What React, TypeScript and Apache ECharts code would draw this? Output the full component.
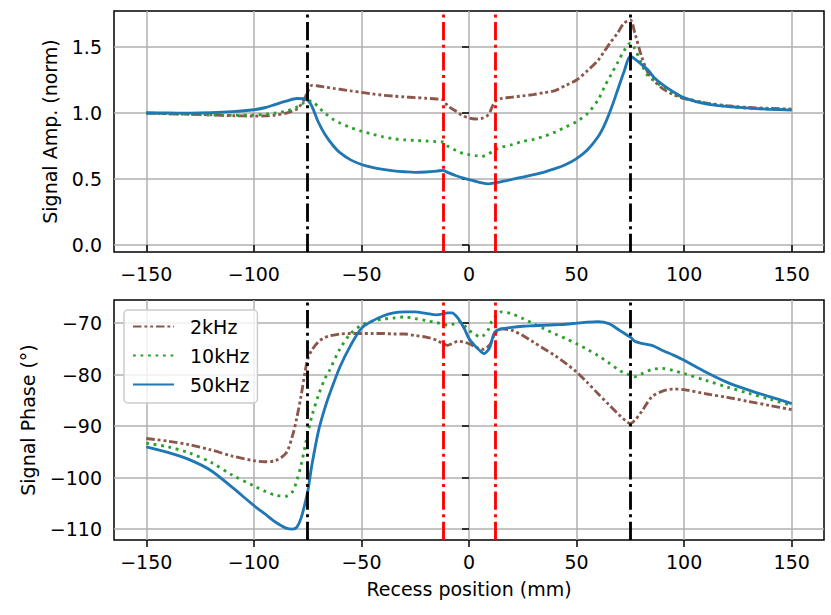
import React, { useEffect, useRef } from "react";
import * as echarts from "echarts";

const xTicks = [-150, -100, -50, 0, 50, 100, 150];
const ampTicks = [0, 0.5, 1.0, 1.5];
const phaseTicks = [-110, -100, -90, -80, -70];
const boundaryX = [-75, 75];
const recessX = [-12, 12];
const seriesNames = ["2kHz", "10kHz", "50kHz"];

const xAmp = [-150, -140, -130, -120, -110, -100, -95, -90, -85, -80, -77, -75, -73, -70, -67, -63, -60, -55, -50, -45, -40, -35, -30, -25, -20, -15, -12, -10, -6, -3, 0, 3, 6, 9, 12, 15, 20, 25, 30, 35, 40, 45, 50, 55, 60, 63, 66, 69, 72, 75, 77, 80, 83, 86, 90, 95, 100, 110, 120, 130, 140, 150];
const amp2k = [1.0, 0.995, 0.99, 0.986, 0.98, 0.977, 0.978, 0.985, 1.0, 1.03, 1.09, 1.16, 1.21, 1.205, 1.197, 1.187, 1.18, 1.168, 1.157, 1.145, 1.135, 1.128, 1.122, 1.117, 1.112, 1.106, 1.1, 1.056, 1.013, 0.98, 0.962, 0.955, 0.96, 0.987, 1.085, 1.11, 1.12, 1.13, 1.14, 1.155, 1.17, 1.21, 1.25, 1.32, 1.4, 1.47, 1.54, 1.604, 1.68, 1.705, 1.61, 1.44, 1.31, 1.245, 1.185, 1.14, 1.11, 1.077, 1.055, 1.042, 1.035, 1.03];
const amp10k = [1.0, 0.995, 0.99, 0.985, 0.982, 0.985, 0.99, 1.0, 1.015, 1.045, 1.075, 1.092, 1.09, 1.045, 1.0, 0.95, 0.925, 0.89, 0.862, 0.84, 0.82, 0.805, 0.797, 0.792, 0.788, 0.783, 0.78, 0.75, 0.715, 0.695, 0.685, 0.677, 0.672, 0.69, 0.72, 0.74, 0.76, 0.785, 0.8, 0.825, 0.855, 0.895, 0.935, 0.995, 1.1, 1.2, 1.29, 1.38, 1.47, 1.53, 1.49, 1.38, 1.285, 1.245, 1.2, 1.15, 1.115, 1.075, 1.05, 1.037, 1.03, 1.025];
const amp50k = [1.0, 1.0, 0.999, 1.002, 1.01, 1.025, 1.04, 1.065, 1.09, 1.11, 1.108, 1.098, 1.05, 0.93, 0.84, 0.75, 0.7, 0.645, 0.61, 0.588, 0.573, 0.562, 0.555, 0.55, 0.553, 0.56, 0.566, 0.55, 0.525, 0.508, 0.495, 0.483, 0.47, 0.463, 0.47, 0.48, 0.497, 0.515, 0.533, 0.553, 0.578, 0.61, 0.655, 0.72, 0.82, 0.91, 1.03, 1.17, 1.31, 1.43, 1.41, 1.37, 1.33, 1.27, 1.215, 1.16, 1.115, 1.07, 1.05, 1.037, 1.028, 1.022];

const xPhase = [-150, -140, -130, -120, -110, -100, -95, -90, -85, -82, -80, -78, -76, -75, -73, -70, -67, -65, -60, -55, -50, -45, -40, -35, -30, -25, -20, -15, -12, -10, -8, -5, -2, 0, 3, 5, 7, 9, 10, 12, 15, 20, 25, 30, 35, 40, 45, 50, 55, 60, 65, 70, 73, 75, 77, 80, 85, 90, 95, 100, 110, 120, 130, 140, 150];
const phase2k = [-92.4, -92.9, -93.6, -94.6, -95.8, -96.7, -96.9, -96.7, -95.2, -91.8, -88.3, -84.0, -79.0, -77.0, -75.2, -73.6, -72.8, -72.5, -72.1, -72.0, -72.0, -72.0, -72.0, -72.1, -72.1, -72.4, -72.7, -73.3, -74.0, -74.3, -74.0, -73.5, -73.7, -74.0, -74.6, -75.0, -75.1, -74.5, -74.0, -72.1, -71.1, -71.4, -72.4, -73.7, -75.0, -76.3, -77.8, -79.5, -81.5, -83.7, -85.8, -87.9, -89.0, -89.5, -88.9, -87.3, -84.3, -83.2, -82.8, -82.9, -83.7, -84.4, -85.2, -86.0, -86.8];
const phase10k = [-93.3, -94.0, -95.2, -97.0, -99.5, -101.6, -102.6, -103.4, -103.6, -102.7, -100.5, -97.5, -93.5, -91.5, -88.0, -84.0, -80.8, -79.3, -75.0, -72.0, -70.4, -69.6, -69.2, -69.0, -68.8, -69.1, -69.5, -69.9, -70.1, -70.4, -70.3, -69.6, -70.5, -71.4, -72.2, -72.7, -72.3, -71.2, -70.1, -68.8, -67.8, -68.2, -69.1, -70.1, -71.1, -72.1, -73.0, -74.0, -75.1, -76.3, -77.7, -79.2, -79.8, -80.1, -80.4, -79.9, -79.0, -78.8, -79.2, -79.8, -81.1, -82.4, -83.6, -84.8, -86.0];
const phase50k = [-94.0, -95.1, -96.5, -98.6, -101.9, -105.4, -107.0, -108.6, -109.8, -110.0, -109.6, -107.8, -104.6, -102.8, -97.5, -91.0, -86.5, -84.0, -78.5, -74.3, -71.0, -69.6, -68.6, -68.0, -67.8, -67.8, -68.1, -68.4, -68.2, -68.0, -68.0, -69.1, -71.2, -73.0, -74.5, -75.3, -75.9, -75.2, -74.3, -71.7, -71.1, -70.8, -70.6, -70.5, -70.4, -70.3, -70.2, -70.0, -69.8, -69.7, -70.1, -71.4, -72.2, -72.7, -73.5, -73.9, -74.3, -75.3, -76.2, -77.2, -79.5, -81.5, -83.0, -84.3, -85.6];

const FONT = "DejaVu Sans";
const minus = (v: number) => (v < 0 ? "\u2212" + Math.abs(v) : String(v));

const styles = [
  { color: "#8c564b", type: [8.5, 2.9, 2.9, 2.9, 2.9, 2.9] },
  { color: "#2ca02c", type: [2.8, 4.7] },
  { color: "#1f77b4", type: "solid" },
];

function makeXAxis(gridIndex: number, withName: boolean) {
  return {
    type: "value",
    gridIndex,
    min: -165,
    max: 165,
    axisLine: { show: false },
    axisTick: { show: true, inside: false, length: 7, customValues: xTicks, lineStyle: { color: "#000", width: 1.5 } },
    axisLabel: { customValues: xTicks, formatter: minus, color: "#000", fontFamily: FONT, fontSize: 19, margin: 12 },
    splitLine: { show: true, lineStyle: { color: "#b0b0b0", width: 1.5 } },
    name: withName ? "Recess position (mm)" : "",
    nameLocation: "middle",
    nameGap: 39,
    nameTextStyle: { color: "#000", fontFamily: FONT, fontSize: 19 },
  };
}

function makeYAxis(gridIndex: number, min: number, max: number, ticks: number[], fmt: (v: number) => string, name: string, gap: number) {
  return {
    type: "value",
    gridIndex,
    min,
    max,
    axisLine: { show: false },
    axisTick: { show: true, inside: false, length: 7, customValues: ticks, lineStyle: { color: "#000", width: 1.5 } },
    axisLabel: { customValues: ticks, formatter: fmt, color: "#000", fontFamily: FONT, fontSize: 19, margin: 12 },
    splitLine: { show: true, lineStyle: { color: "#b0b0b0", width: 1.5 } },
    name,
    nameLocation: "middle",
    nameRotate: 90,
    nameGap: gap,
    nameTextStyle: { color: "#000", fontFamily: FONT, fontSize: 19 },
  };
}

function vLines(idx: number) {
  const dashDot = [18.2, 4.6, 2.85, 4.6];
  return {
    type: "line",
    xAxisIndex: idx,
    yAxisIndex: idx,
    data: [],
    z: 5,
    markLine: {
      silent: true,
      symbol: ["none", "none"],
      label: { show: false },
      animation: false,
      data: [
        ...boundaryX.map((x) => ({ xAxis: x, lineStyle: { color: "#000000", width: 2.85, type: dashDot } })),
        ...recessX.map((x) => ({ xAxis: x, lineStyle: { color: "#ff0000", width: 2.85, type: dashDot } })),
      ],
    },
  };
}

export default function App() {
  const ref = useRef<HTMLDivElement>(null);
  useEffect(() => {
    if (!ref.current) return;
    const chart = echarts.init(ref.current, null, { renderer: "svg" });
    const ampSets = [amp2k, amp10k, amp50k];
    const phaseSets = [phase2k, phase10k, phase50k];
    const lineSeries: any[] = [];
    const addSeries = (xs: number[], sets: number[][], axis: number) => {
      sets.forEach((vals, k) => {
        lineSeries.push({
          name: seriesNames[k],
          type: "line",
          xAxisIndex: axis,
          yAxisIndex: axis,
          showSymbol: false,
          symbol: "none",
          smooth: 0.3,
          z: 2 + k * 0.1,
          lineStyle: { color: styles[k].color, width: 2.85, type: styles[k].type },
          itemStyle: { color: styles[k].color },
          data: xs.map((x, i) => [x, vals[i]]),
        });
      });
    };
    addSeries(xAmp, ampSets, 0);
    addSeries(xPhase, phaseSets, 1);
    chart.setOption({
      animation: false,
      backgroundColor: "#ffffff",
      textStyle: { fontFamily: FONT },
      grid: [
        { left: 114, top: 11, width: 710, height: 241, show: true, borderColor: "#000", borderWidth: 1.5, backgroundColor: "transparent", outerBoundsMode: "none" },
        { left: 114, top: 300, width: 710, height: 240, show: true, borderColor: "#000", borderWidth: 1.5, backgroundColor: "transparent", outerBoundsMode: "none" },
      ],
      xAxis: [makeXAxis(0, false), makeXAxis(1, true)],
      yAxis: [
        makeYAxis(0, -0.053, 1.773, ampTicks, (v: number) => v.toFixed(1), "Signal Amp. (norm)", 55),
        makeYAxis(1, -112.1, -65.5, phaseTicks, minus, "Signal Phase (\u00b0)", 77),
      ],
      legend: {
        data: seriesNames,
        orient: "vertical",
        left: 124,
        top: 310,
        itemWidth: 41,
        itemHeight: 19,
        itemGap: 10,
        padding: [7, 8, 9, 8],
        borderColor: "#cccccc",
        borderWidth: 1.5,
        borderRadius: 4,
        backgroundColor: "rgba(255,255,255,0.8)",
        selectedMode: false,
        itemStyle: { opacity: 0 },
        textStyle: { color: "#000", fontFamily: FONT, fontSize: 19, padding: [0, 0, 0, 11] },
      },
      series: [...lineSeries, vLines(0), vLines(1)],
    });
    return () => chart.dispose();
  }, []);
  return <div ref={ref} style={{ position: "fixed", left: 0, top: 0, width: 831, height: 615 }} />;
}
